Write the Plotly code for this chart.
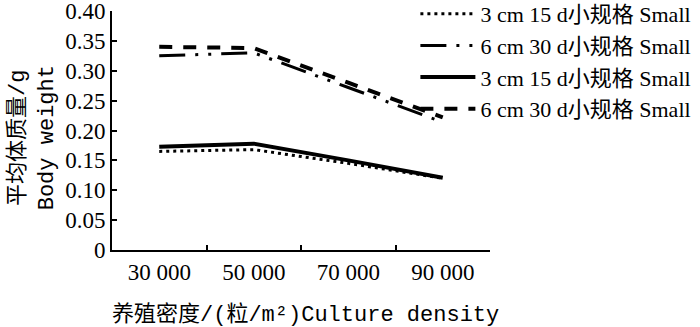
import plotly.graph_objects as go

categories = ["30 000", "50 000", "70 000", "90 000"]
dotted_3cm = [0.165, 0.168, 0.145, 0.120]
dashdot_6cm = [0.325, 0.330, 0.272, 0.214]
solid_3cm = [0.173, 0.178, 0.150, 0.121]
dashed_6cm = [0.340, 0.338, 0.280, 0.222]
names = ["3 cm 15 d小规格 Small", "6 cm 30 d小规格 Small",
         "3 cm 15 d小规格 Small", "6 cm 30 d小规格 Small"]
ytickvals = [0, 0.05, 0.10, 0.15, 0.20, 0.25, 0.30, 0.35, 0.40]
yticktext = ["0", "0.05", "0.10", "0.15", "0.20", "0.25", "0.30", "0.35", "0.40"]

SERIF = "Liberation Serif, Noto Sans CJK SC, serif"
MONO = "Liberation Mono, Noto Sans CJK SC, monospace"

fig = go.Figure()
styles = [
    (dotted_3cm, dict(color="black", width=3, dash="3px,4px")),
    (dashdot_6cm, dict(color="black", width=3, dash="26px,10px,3px,10px,3px,10px")),
    (solid_3cm, dict(color="black", width=4)),
    (dashed_6cm, dict(color="black", width=4, dash="13px,11px")),
]
for (vals, line), nm in zip(styles, names):
    fig.add_trace(go.Scatter(x=categories, y=vals, mode="lines", name=nm, line=line))

fig.update_layout(
    width=700, height=327,
    margin=dict(l=112, r=210, t=11, b=77, autoexpand=False),
    paper_bgcolor="white", plot_bgcolor="white",
    font=dict(family=SERIF, size=20, color="black"),
    showlegend=True,
    legend=dict(x=1.546, xanchor="right", y=1.075, yanchor="top",
                bgcolor="rgba(0,0,0,0)", font=dict(family=SERIF, size=22),
                itemwidth=55, tracegroupgap=0),
    xaxis=dict(type="category", range=[-0.5, 3.5], tickson="boundaries",
               ticks="inside", ticklen=5, tickwidth=2, tickcolor="black",
               showline=True, linecolor="black", linewidth=2,
               showgrid=False, zeroline=False,
               tickfont=dict(family=SERIF, size=23)),
    yaxis=dict(range=[0, 0.40], tickvals=ytickvals, ticktext=yticktext,
               ticks="inside", ticklen=5, tickwidth=2, tickcolor="black",
               showline=True, linecolor="black", linewidth=2,
               showgrid=False, zeroline=False, ticklabeloverflow="allow",
               tickfont=dict(family=SERIF, size=23)),
    annotations=[
        dict(text="平均体质量/g<br>Body weight", xref="paper", yref="paper",
             x=-0.21, y=0.47, xanchor="center", yanchor="middle",
             textangle=-90, showarrow=False, font=dict(family=MONO, size=22)),
        dict(text="养殖密度/(粒/m²)Culture density", xref="paper", yref="paper",
             x=-0.004, y=-0.273, xanchor="left", yanchor="middle",
             showarrow=False, font=dict(family=MONO, size=22)),
    ],
)

fig.write_html("out.html", config={"displayModeBar": False},
               post_script="document.body.style.margin='0';")
